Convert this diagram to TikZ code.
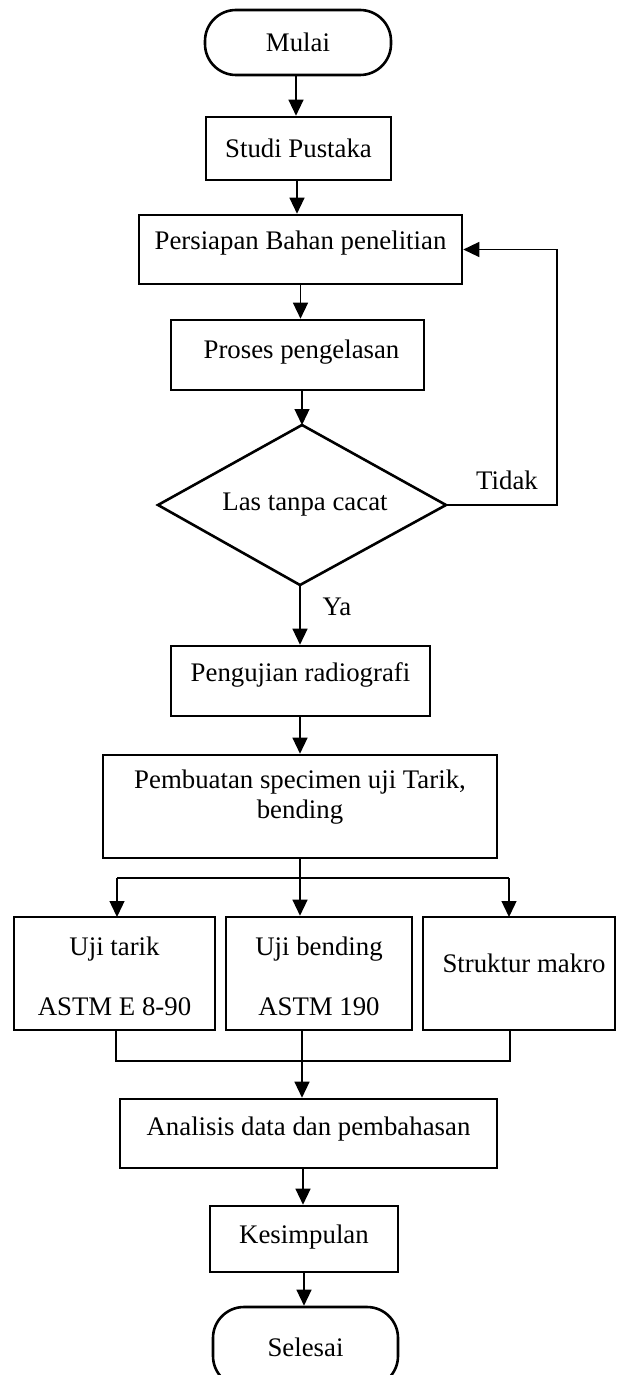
\documentclass[tikz,border=0pt]{standalone}
\usepackage{fontspec}
\setmainfont{Liberation Serif}
\usetikzlibrary{arrows.meta}
\begin{document}
\begin{tikzpicture}[x=1pt,y=-1pt,
  box/.style={draw,line width=2.6pt,rectangle,inner sep=0pt},
  term/.style={draw,line width=2.6pt,rectangle,rounded corners=31pt,inner sep=0pt},
  tip/.style={-{Triangle[length=16pt,width=15pt]}},
  arr/.style={line width=1.3pt,tip},
  conn/.style={line width=1.3pt},
  txt/.style={inner sep=0pt,align=center},
  font=\fontsize{26.8}{30}\selectfont]
\useasboundingbox (0,0) rectangle (616,1375);
\clip (0,0) rectangle (616,1375);

% nodes
\node[term,minimum width=186,minimum height=65] (mulai) at (298,42.5) {Mulai};
\node[box,minimum width=185,minimum height=63] (studi) at (298.5,148.5) {Studi Pustaka};
\node[box,minimum width=323,minimum height=69,
  label={[txt,yshift=6pt]center:Persiapan Bahan penelitian}] (persiapan) at (300.5,249.5) {};
\node[box,minimum width=253,minimum height=70,
  label={[txt,xshift=4pt,yshift=3pt]center:Proses pengelasan}] (proses) at (297.5,355) {};
% decision diamond
\coordinate (dN) at (302,425);
\coordinate (dE) at (446,505);
\coordinate (dS) at (300,585);
\coordinate (dW) at (158,505);
\draw[line width=2.6pt,line join=miter] (dN) -- (dE) -- (dS) -- (dW) -- cycle;
\node[txt] (dec) at (305,505) {Las tanpa cacat};
\node[txt] (tidak) at (507,480) {Tidak};
\node[txt] (ya) at (337,607) {Ya};

\node[box,minimum width=259,minimum height=70,
  label={[txt,yshift=6pt]center:Pengujian radiografi}] (uji-rad) at (300.5,681) {};
\node[box,minimum width=394,minimum height=103,
  label={[txt,yshift=9pt]center:Pembuatan specimen uji Tarik,\\bending}] (pembuatan) at (300,806.5) {};

\node[box,minimum width=201,minimum height=113,
  label={[txt,yshift=-3pt]center:Uji tarik\\[30pt]ASTM E 8-90}] (tarik) at (114.5,973.5) {};
\node[box,minimum width=186,minimum height=113,
  label={[txt,yshift=-3pt]center:Uji bending\\[30pt]ASTM 190}] (bending) at (319,973.5) {};
\node[box,minimum width=192,minimum height=113,
  label={[txt,xshift=5pt,yshift=10pt]center:Struktur makro}] (makro) at (519,973.5) {};

\node[box,minimum width=377,minimum height=69,
  label={[txt,yshift=4pt]center:Analisis data dan pembahasan}] (analisis) at (308.5,1133.5) {};
\node[box,minimum width=188,minimum height=66,
  label={[txt,yshift=2pt]center:Kesimpulan}] (kesimpulan) at (304,1239) {};
\node[term,minimum width=185,minimum height=80] (selesai) at (305.5,1347) {Selesai};

% connectors
\draw[arr] (mulai.south -| 296,0) -- (studi.north -| 296,0);
\draw[arr] (studi.south -| 297,0) -- (persiapan.north -| 297,0);
\draw[arr] (persiapan.south) -- (proses.north -| persiapan.south);
\draw[arr] (dN |- proses.south) -- (dN);
\draw[conn,tip] (dE) -- ++(111,0) |- (persiapan.east);
\draw[arr] (dS) -- (uji-rad.north -| dS);
\draw[arr] (uji-rad.south -| dS) -- (pembuatan.north -| dS);

\coordinate (split) at (300,878);
\draw[conn] (pembuatan.south) -- (split);
\draw[conn] (117,878) -- (509,878);
\draw[arr] (117,878) -- (117,917);
\draw[arr] (split) -- (split |- bending.north);
\draw[arr] (509,878) -- (509,917);

\coordinate (merge) at (302,1061);
\draw[conn] (116,1030) -- (116,1061) -- (510,1061) -- (510,1030);
\draw[conn] (merge |- bending.south) -- (merge);
\draw[arr] (merge) -- (merge |- analisis.north);
\draw[arr] (analisis.south -| 303,0) -- (kesimpulan.north -| 303,0);
\draw[arr] (kesimpulan.south -| 304,0) -- (selesai.north -| 304,0);
\end{tikzpicture}
\end{document}
